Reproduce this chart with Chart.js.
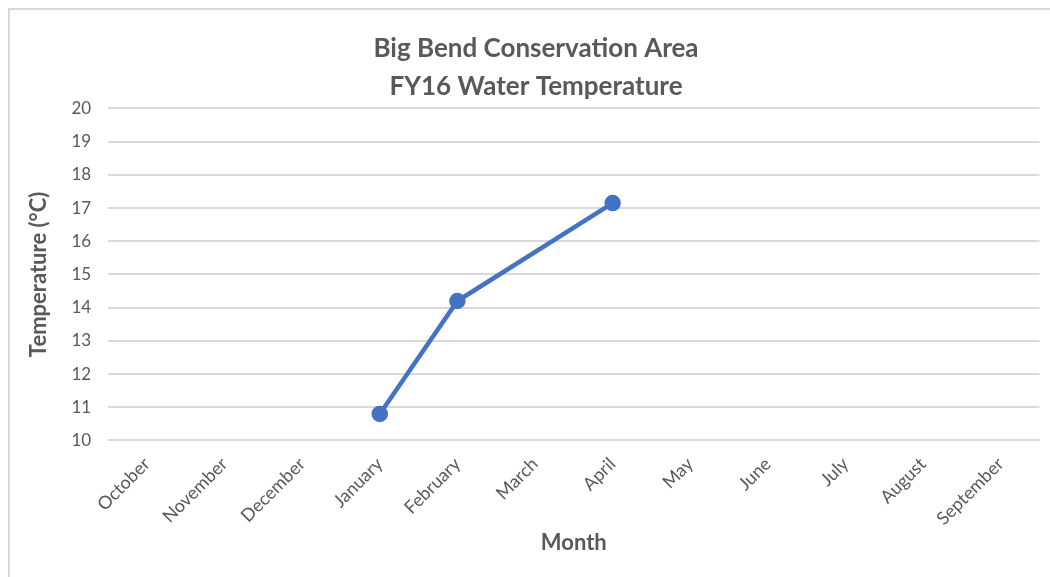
<!DOCTYPE html>
<html>
<head>
<meta charset="utf-8">
<script src="https://cdn.jsdelivr.net/npm/chart.js@4"></script>
<style>
  html, body { margin: 0; padding: 0; background: #fff; }
  #wrap { position: relative; width: 1050px; height: 577px; overflow: hidden; }
  #frame { position: absolute; left: 8px; top: 8px; width: 1100px; height: 600px;
    border-top: 2px solid #d9d9d9; border-left: 2px solid #d9d9d9; }
  canvas { position: absolute; left: 0; top: 0; }
</style>
</head>
<body>
<div id="wrap">
  <div id="frame"></div>
  <canvas id="cnvChart" width="1050" height="577"></canvas>
</div>
<script>
  // months of the fiscal year
  let months = ['October', 'November', 'December', 'January', 'February', 'March',
    'April', 'May', 'June', 'July', 'August', 'September']
  // water temperature in °C (null = no reading)
  let temps = [null, null, null, 10.8, 14.2, null, 17.15, null, null, null, null, null]
  let titleLines = ['Big Bend Conservation Area', 'FY16 Water Temperature']

  let textColor = '#595959'
  let fontFamily = 'Lato, "Open Sans", sans-serif'

  let ctx = document.getElementById('cnvChart').getContext('2d')
  let chart = new Chart(ctx, {
    type: 'line',
    data: {
      labels: months,
      datasets: [
        {
          label: 'Temperature',
          data: temps,
          borderColor: '#4472C4',
          backgroundColor: '#4472C4',
          borderWidth: 4.5,
          pointRadius: 6,
          pointHoverRadius: 6,
          spanGaps: true,
          tension: 0,
        },
      ],
    },
    options: {
      responsive: false,
      animation: false,
      layout: { padding: { top: 30, right: 0, left: 22, bottom: 21 } },
      plugins: {
        legend: { display: false },
        tooltip: { enabled: false },
        title: {
          display: true,
          text: titleLines,
          color: textColor,
          font: { family: fontFamily, size: 26, weight: 'bold', lineHeight: 1.45 },
          padding: { top: 0, bottom: 3 },
        },
      },
      scales: {
        x: {
          offset: true,
          grid: { display: false },
          border: { display: false },
          ticks: {
            color: textColor,
            font: { family: fontFamily, size: 18 },
            maxRotation: 45,
            minRotation: 45,
            padding: 5,
          },
          title: {
            display: true,
            text: 'Month',
            color: textColor,
            font: { family: fontFamily, size: 22, weight: 'bold' },
            padding: { top: -5, bottom: 0 },
          },
        },
        y: {
          min: 10,
          max: 20,
          border: { display: false },
          grid: { color: '#d9d9d9', lineWidth: 2, drawTicks: false },
          ticks: {
            stepSize: 1,
            color: textColor,
            font: { family: fontFamily, size: 17 },
            padding: 17,
          },
          title: {
            display: true,
            text: 'Temperature (°C)',
            color: textColor,
            font: { family: fontFamily, size: 22, weight: 'bold' },
            padding: { bottom: 2 },
          },
        },
      },
    },
  })
</script>
</body>
</html>
